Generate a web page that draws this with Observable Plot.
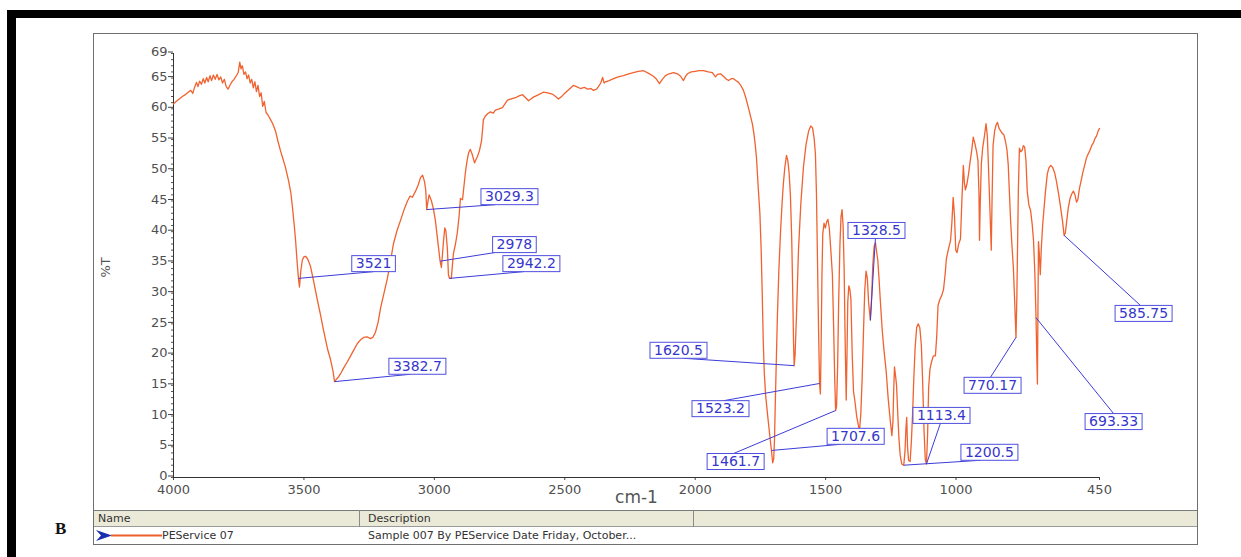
<!DOCTYPE html>
<html>
<head>
<meta charset="utf-8">
<script src="https://cdn.jsdelivr.net/npm/d3@7"></script>
<script src="https://cdn.jsdelivr.net/npm/@observablehq/plot@0.6"></script>
<style>
  html, body { margin: 0; padding: 0; background: #fff; }
  #page { position: relative; width: 1241px; height: 557px; overflow: hidden; font-family: "DejaVu Sans", sans-serif; }
  .bar { position: absolute; background: #000; }
  #frame { position: absolute; left: 93px; top: 33px; width: 1105px; height: 512px; border: 1px solid #6f6f6f; box-sizing: border-box; }
  #thead { position: absolute; left: 94px; top: 510px; width: 1103px; height: 17px; background: #ebe9d8; border-top: 1px solid #7a7a7a; border-bottom: 1px solid #9a9a9a; box-sizing: border-box; font-size: 11px; color: #333; }
  #thead span { position: absolute; top: 1px; }
  .vline { position: absolute; top: 510px; width: 1px; height: 17px; background: #8a8a8a; }
  #trow { position: absolute; left: 94px; top: 527px; width: 1103px; height: 17px; font-size: 11px; color: #333; }
  #trow span { position: absolute; top: 2px; }
  #trow svg { position: absolute; left: 2px; top: 2px; }
  #tag { position: absolute; left: 55px; top: 519px; font: bold 17px "Liberation Serif", serif; color: #111; }
  #chart svg { position: absolute; left: 0; top: 0; }
</style>
</head>
<body>
<div id="page">
  <div class="bar" style="left:8px;top:10px;width:1233px;height:8px"></div>
  <div class="bar" style="left:7px;top:10px;width:9px;height:547px"></div>
  <div id="frame"></div>
  <div id="thead"><span style="left:4px">Name</span><span style="left:274px">Description</span></div>
  <div class="vline" style="left:359px"></div>
  <div class="vline" style="left:693px"></div>
  <div id="trow">
    <svg width="66" height="13" viewBox="0 0 66 13">
      <polygon points="0,1 16,6.5 0,12 5,6.5" fill="#1a2fb0"/>
      <line x1="15" y1="6.5" x2="66" y2="6.5" stroke="#ef5f2e" stroke-width="2"/>
    </svg>
    <span style="left:68px">PEService 07</span>
    <span style="left:274px">Sample 007 By PEService Date Friday, October...</span>
  </div>
  <div id="tag">B</div>
  <div id="chart"></div>
</div>
<script>
// FT-IR spectrum of sample PEService 07: wavenumber (cm-1) and transmittance (%T)
const wavenumber = [
  4000,3990,3978,3966,3955,3944,3934,3926,3920,3912,3906,3900,3893,3886,3880,3873,3867,3860,3854,3847,
  3840,3833,3826,3819,3812,3805,3798,3791,3784,3776,3768,3760,3752,3746,3741,3736,3730,3724,3718,3712,
  3706,3700,3694,3688,3682,3676,3670,3664,3658,3652,3645,3638,3630,3620,3609,3600,3590,3580,3571,3559,
  3550,3544,3537,3532,3526,3521,3517,3512,3506,3500,3494,3486,3475,3463,3448,3436,3425,3410,3398,3388,
  3382.7,3375,3367,3358,3348,3334,3321,3308,3295,3283,3271,3258,3245,3236,3226,3216,3206,3193,3180,3168,
  3157,3143,3130,3116,3103,3093,3084,3072,3062,3053,3045,3038,3033,3029.3,3025,3020,3011,3003,2996,2990,
  2984,2978,2973,2969,2965,2960,2956,2950,2946,2942.2,2935,2927,2919,2912,2905,2900,2892,2886,2881,2875,
  2869,2862,2855,2846,2840,2835,2827,2819,2812,2805,2796,2785,2774,2766,2752,2739,2728,2720,2705,2689,
  2675,2662,2650,2639,2630,2620,2600,2582,2565,2548,2535,2524,2510,2498,2485,2467,2455,2440,2425,2413,
  2400,2390,2378,2371,2362,2355,2349,2344,2330,2313,2295,2275,2255,2237,2218,2198,2180,2160,2148,2137,
  2126,2114,2100,2083,2068,2056,2045,2038,2030,2015,2000,1985,1968,1950,1934,1926,1922,1915,1903,1890,
  1880,1872,1862,1853,1844,1834,1825,1815,1806,1796,1788,1781,1775,1770,1765,1758,1752,1747,1743,1739,
  1735,1730,1723,1715,1707.6,1703,1699,1696,1693,1689,1685,1679,1673,1667,1662,1656,1650,1645,1640,1635,
  1630,1626,1623,1620.5,1617,1612,1604,1595,1585,1575,1565,1557,1550,1544,1539,1535,1531,1527,1523.2,1520,
  1517,1514,1511,1506,1501,1496,1491,1486,1480,1474,1469,1465,1461.7,1458,1454,1450,1445,1441,1437,1433,
  1429,1425,1421,1418,1415,1411,1407,1403,1398,1393,1387,1381,1375,1370,1365,1360,1355,1350,1345,1340,
  1335,1328.5,1324,1319,1314,1309,1304,1300,1295,1290,1283,1276,1268,1260,1252,1246,1242,1239,1236,1232,
  1228,1224,1219,1214,1208,1200.5,1196,1192,1189,1186,1182,1176,1171,1166,1162,1157,1151,1145,1139,1133,
  1128,1123,1118,1113.4,1109,1105,1100,1094,1087,1079,1074,1069,1062,1055,1048,1042,1037,1030,1021,1016,
  1011,1006,1001,996,990,983,978,972,968,964,958,952,946,940,934,928,921,916,912,910,
  907,903,898,891,885,880,876,872,868,865,862,858,852,846,841,835,829,823,817,811,
  805,800,796,791,786,780,775,770.17,767,764,761,757,752,747,742,737,732,727,721,714,
  708,703,698,693.33,690,688,686,684,681,677,673,668,663,657,650,644,637,630,622,615,
  607,600,592,585.75,581,576,570,563,556,550,544,538,533,527,520,514,507,500,494,487,
  480,474,467,461,455,450
];
const transmittance = [
  60.8,61.2,61.6,62.0,62.3,62.7,63.0,62.5,63.4,64.3,63.6,64.5,64.0,64.9,64.2,65.1,64.4,65.4,64.6,65.5,
  64.8,65.6,64.7,65.2,64.2,64.8,63.6,63.2,63.8,64.4,64.8,65.3,65.9,67.6,66.5,67.0,65.6,66.0,64.9,65.5,
  64.2,64.8,63.4,64.4,62.8,63.8,62.0,62.6,60.4,61.2,59.4,59.0,58.4,57.6,56.4,54.8,53.2,51.8,50.5,48.3,
  46.3,44.0,41.0,38.6,35.0,32.4,31.0,33.6,35.4,35.9,36.0,35.6,34.4,32.0,28.8,26.4,24.0,21.0,19.2,17.2,
  15.6,16.0,16.4,17.0,17.8,18.8,19.8,20.8,21.8,22.4,22.8,22.9,22.6,22.8,23.6,25.2,27.6,30.0,32.4,35.2,
  38.0,40.2,41.8,43.6,45.0,45.8,45.6,46.6,47.6,48.8,49.2,48.2,46.8,43.6,44.8,46.0,45.0,43.6,41.8,39.6,
  37.4,35.2,34.2,36.2,38.4,40.6,40.2,37.2,33.0,32.4,32.4,36.4,38.0,39.8,42.6,45.4,45.2,47.6,49.6,51.4,
  52.8,53.4,52.6,51.2,51.8,52.2,53.2,54.8,58.2,58.8,59.2,59.5,59.3,59.8,60.0,60.2,60.9,61.4,61.6,61.8,
  62.1,62.3,61.8,61.3,61.6,61.9,62.3,62.7,62.6,62.4,62.0,61.6,62.1,62.6,63.1,63.8,63.6,63.3,63.5,63.2,
  63.3,63.0,63.2,63.6,64.2,65.1,64.2,64.4,64.6,64.9,65.2,65.4,65.7,65.9,66.1,66.2,65.8,65.3,64.8,64.1,
  64.8,65.4,65.7,65.9,65.7,65.3,64.6,65.2,65.7,66.0,66.1,66.2,66.2,66.0,65.9,65.4,65.2,65.6,65.7,65.2,
  64.8,64.6,64.9,64.9,64.6,64.3,63.8,63.0,61.8,60.2,58.8,57.6,56.0,54.2,52.0,47.0,43.0,37.0,30.0,22.0,
  17.0,13.4,10.4,7.2,4.4,2.4,3.0,6.0,12.0,19.0,26.0,34.0,39.8,44.6,47.8,50.6,52.4,51.6,49.6,46.0,
  39.0,30.0,22.0,18.2,20.0,26.0,37.0,44.6,50.5,54.2,56.4,57.2,56.9,55.2,52.6,46.0,35.0,24.0,15.3,13.6,
  22.0,33.0,39.6,41.4,40.6,41.6,42.0,40.6,37.0,33.0,24.0,16.0,10.9,11.6,18.0,28.6,38.0,42.4,43.6,41.0,
  34.0,22.0,12.6,20.0,28.6,31.2,30.6,29.0,20.0,14.0,12.2,10.0,8.6,7.6,10.4,16.0,23.4,30.4,33.6,32.4,
  28.4,25.6,29.0,34.6,37.6,38.2,36.6,35.4,32.2,28.6,24.0,20.6,17.4,12.8,9.2,6.8,9.0,14.0,18.0,16.6,
  15.0,11.0,6.4,3.6,2.2,2.0,4.0,8.0,9.8,5.0,2.8,2.6,6.0,11.0,16.0,21.0,24.4,25.0,24.4,21.6,
  15.6,8.0,3.0,2.2,7.0,14.6,17.6,18.8,19.8,19.8,23.0,28.0,29.0,29.6,30.6,33.0,35.6,37.0,38.6,41.4,
  45.6,42.6,37.0,36.6,38.0,38.8,44.6,50.8,48.0,46.8,47.8,49.4,51.4,53.2,55.4,54.4,53.0,51.6,46.0,38.6,
  45.0,51.0,53.6,55.6,57.6,55.6,51.0,46.0,41.0,37.0,45.0,54.0,56.4,57.4,57.8,56.8,56.4,56.0,55.8,54.8,
  53.4,51.0,47.0,42.0,38.0,34.0,28.4,22.8,29.0,38.0,47.0,53.6,53.0,53.2,54.0,53.8,51.6,46.6,44.4,43.4,
  41.2,38.6,33.4,26.0,19.0,15.2,27.0,38.4,36.6,33.0,37.4,41.0,43.6,46.6,49.4,50.4,50.8,50.5,49.6,48.2,
  46.2,44.2,41.8,39.4,39.8,41.6,43.8,45.4,46.2,46.6,46.0,44.8,45.2,47.0,48.4,49.6,50.8,52.0,52.6,53.2,
  54.0,54.4,55.2,55.6,56.4,56.8
];

// Labelled absorption bands and the %T read at each band
const peakLabels = ["3521","3382.7","3029.3","2978","2942.2","1620.5","1523.2","1461.7","1707.6","1328.5","1113.4","1200.5","770.17","693.33","585.75"];
const peakT = [32.4,15.6,43.6,35.2,32.4,18.2,15.3,10.9,4.4,25.6,2.2,2.0,22.8,26.0,39.4];

// Where each label box sits (centre, in cm-1 / %T) and where its leader meets the box
const boxWn = [3233,3065,2712,2693,2628,2064,1903,1845,1385,1305,1056,872,860,396,281];
const boxT = [34.8,18.1,45.7,37.9,34.8,20.7,11.2,2.6,6.7,40.2,10.1,4.1,15.0,9.1,26.7];
const leaderWn = [3233,3091,2766,2769,2658,2045,1891,1853,1443,1309,1060,906,868,396,293];
const leaderT = [33.5,16.8,44.4,36.6,33.5,19.4,12.5,3.9,5.4,38.9,8.8,2.8,16.3,10.4,28.0];

// Axis ticks
const xTicks = [4000,3500,3000,2500,2000,1500,1000,450];
const yTicks = [0,5,10,15,20,25,30,35,40,45,50,55,60,65,69];
const yMinorTicks = d3.range(0, 70);

const spectrum = wavenumber.map((w, i) => ({w, t: transmittance[i]}));
const peaks = peakLabels.map((label, i) => ({
  label, w: +label, t: peakT[i],
  bw: boxWn[i], bt: boxT[i], lw: leaderWn[i], lt: leaderT[i]
}));

const blue = "#3636cc";

const plot = Plot.plot({
  width: 1241,
  height: 557,
  marginLeft: 173,
  marginRight: 142,
  marginTop: 53,
  marginBottom: 80,
  style: {fontFamily: "DejaVu Sans, sans-serif", fontSize: "13px", color: "#4a4a4a", background: "transparent", overflow: "visible"},
  x: {domain: [4000, 450]},
  y: {domain: [0, 69]},
  marks: [
    Plot.axisY(yMinorTicks, {tickSize: 2, tickFormat: () => "", label: null, stroke: "#555"}),
    Plot.axisY(yTicks, {tickSize: 5, tickPadding: 1, dy: -1.5, label: null, fontSize: 13, stroke: "#444", fill: "#505050"}),
    Plot.axisX(xTicks, {tickSize: 3, tickPadding: 4, label: null, fontSize: 13, stroke: "#444", fill: "#505050", tickFormat: d => String(d)}),
    Plot.ruleX([4000], {stroke: "#333"}),
    Plot.ruleY([0], {stroke: "#333"}),
    Plot.text(["cm-1"], {frameAnchor: "bottom", dy: 25, fontSize: 17, fill: "#555"}),
    Plot.text(["%T"], {frameAnchor: "left", dx: -68, dy: 12, rotate: -90, fontSize: 13, fill: "#555"}),
    Plot.line(spectrum, {x: "w", y: "t", stroke: "#f0622f", strokeWidth: 1.3, curve: "linear"}),
    Plot.link(peaks, {x1: "w", y1: "t", x2: "lw", y2: "lt", stroke: "#3c3cd8", strokeWidth: 1}),
    Plot.text(peaks, {x: "bw", y: "bt", text: "label", fill: blue, fontSize: 14})
  ]
});

document.getElementById("chart").appendChild(plot);

// Frame each band label with a box
const labelSet = new Set(peakLabels);
plot.querySelectorAll("text").forEach(t => {
  if (!labelSet.has(t.textContent)) return;
  const bb = t.getBBox();
  const r = document.createElementNS("http://www.w3.org/2000/svg", "rect");
  r.setAttribute("x", bb.x - 4);
  r.setAttribute("y", bb.y + 0.5);
  r.setAttribute("width", bb.width + 8);
  r.setAttribute("height", bb.height);
  r.setAttribute("fill", "#fff");
  r.setAttribute("stroke", "#4f4fe0");
  r.setAttribute("stroke-width", 1);
  const tr = t.getAttribute("transform");
  if (tr) r.setAttribute("transform", tr);
  t.parentNode.insertBefore(r, t);
});
</script>
</body>
</html>
